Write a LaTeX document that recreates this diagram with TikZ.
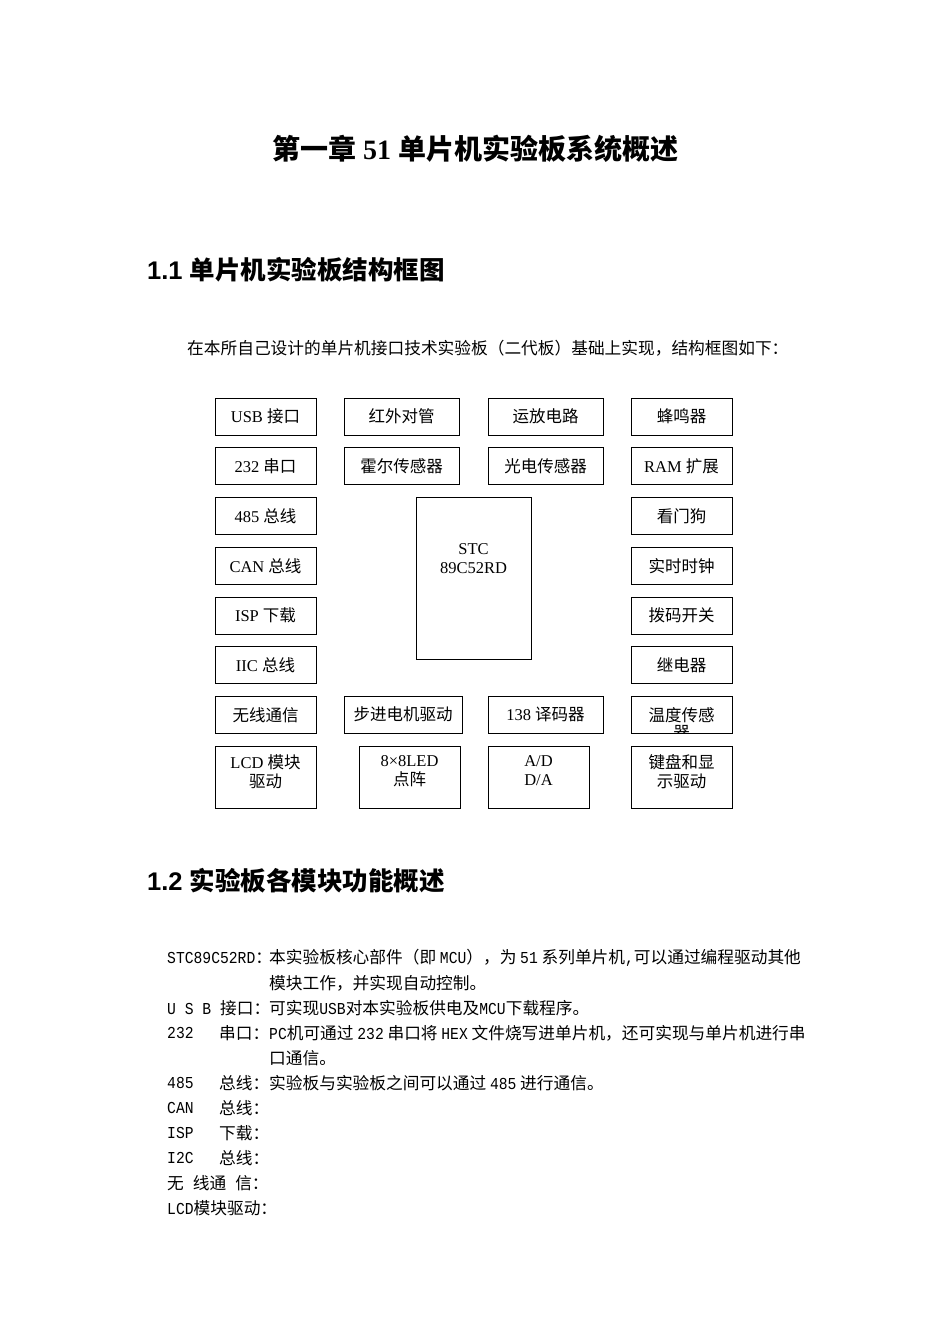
\documentclass[tikz,border=0pt]{standalone}
\usepackage{fontspec}
\setmainfont{Liberation Serif}
\newfontfamily\cjk{Noto Sans CJK SC}
\newfontfamily\arialfont{Liberation Sans}
\newfontfamily\narrowmono[FakeStretch=0.88]{Liberation Mono}
\usetikzlibrary{positioning}
\newcommand{\zh}[1]{{\cjk #1}}
\newcommand{\mn}[1]{{\narrowmono #1}}
\newcommand{\setfs}[2]{\fontsize{#1}{#2}\selectfont}

\begin{document}
\begin{tikzpicture}[
        x=1pt, y=-1pt,
        blk/.style={rectangle, draw, line width=1pt, anchor=north west, align=center, inner sep=0pt, outer sep=0pt,
                    minimum width=101pt, minimum height=37pt, font=\setfs{16.5}{19}},
        wideblk/.style={blk, minimum width=115pt},
        tallblk/.style={blk, minimum height=62pt},
        desc/.style={anchor=west, inner sep=0pt, font=\setfs{16.7}{20}\cjk},
        node distance=12.75pt
    ]
    \fill[white] (0,0) rectangle (950,1344);
    \useasboundingbox (0,0) rectangle (950,1344);

    \node [font=\setfs{28}{32}\bfseries] (title) at (475,149) {\zh{第一章} 51 \zh{单片机实验板系统概述}};
    \node [anchor=west, inner sep=0pt, font=\setfs{25.5}{30}\arialfont\bfseries] (sec1) at (147,270) {1.1 \zh{单片机实验板结构框图}};
    \node [desc] (intro) at (187,348) {在本所自己设计的单片机接口技术实验板（二代板）基础上实现，结构框图如下：};

    % left column
    \node [blk] (usb) at (215,398) {USB \zh{接口}};
    \node [blk, below=of usb] (rs232) {232 \zh{串口}};
    \node [blk, below=of rs232] (rs485) {485 \zh{总线}};
    \node [blk, below=of rs485] (can) {CAN \zh{总线}};
    \node [blk, below=of can] (isp) {ISP \zh{下载}};
    \node [blk, below=of isp] (iic) {IIC \zh{总线}};
    \node [blk, below=of iic] (wireless) {\zh{无线通信}};
    \node [tallblk, below=of wireless] (lcd) {LCD \zh{模块}\\\zh{驱动}\\[-7pt]\mbox{}};

    % right column
    \node [blk] (buzzer) at (631,398) {\zh{蜂鸣器}};
    \node [blk, below=of buzzer] (ram) {RAM \zh{扩展}};
    \node [blk, below=of ram] (wdog) {\zh{看门狗}};
    \node [blk, below=of wdog] (rtc) {\zh{实时时钟}};
    \node [blk, below=of rtc] (dip) {\zh{拨码开关}};
    \node [blk, below=of dip] (relay) {\zh{继电器}};
    \node [blk, below=of relay] (temp) {\zh{温度传感}};
    \node [tallblk, below=of temp] (keydisp) {\zh{键盘和显}\\\zh{示驱动}\\[-7pt]\mbox{}};
    \begin{scope}
        \clip (temp.north west) rectangle (temp.south east);
        \node [inner sep=0pt, font=\setfs{16.5}{19}\cjk] (tempcut) at (681.5,733) {器};
    \end{scope}

    % middle
    \node [wideblk] (ir) at (344,398) {\zh{红外对管}};
    \node [wideblk, below=of ir] (hall) {\zh{霍尔传感器}};
    \node [wideblk] (opamp) at (488,398) {\zh{运放电路}};
    \node [wideblk, below=of opamp] (photo) {\zh{光电传感器}};
    \node [blk, minimum width=115pt, minimum height=162pt] (mcu) at (416,497) {STC\\89C52RD\\\mbox{}\\\mbox{}};
    \node [blk, minimum width=118pt] (stepper) at (344,696) {\zh{步进电机驱动}};
    \node [wideblk] (decoder) at (488,696) {138 \zh{译码器}};
    \node [tallblk] (ledmat) at (359,746) {8×8LED\\\zh{点阵}\\[-7pt]\mbox{}};
    \node [tallblk] (adda) at (488,746) {A/D\\D/A\\[-7pt]\mbox{}};

    \node [anchor=west, inner sep=0pt, font=\setfs{25.5}{30}\arialfont\bfseries] (sec2) at (147,881) {1.2 \zh{实验板各模块功能概述}};

    % module descriptions
    \node [desc] (mcuL) at (167,958) {\mn{STC89C52RD}：};
    \node [desc] (mcuT) at (269,958) {本实验板核心部件（即 \mn{MCU}），为 \mn{51} 系列单片机\mn{,}可以通过编程驱动其他};
    \node [desc] (mcuT2) at (269,983) {模块工作，并实现自动控制。};
    \node [desc] (usbL) at (167,1008) {\mn{U S B }接口：};
    \node [desc] (usbT) at (269,1008) {可实现\mn{USB}对本实验板供电及\mn{MCU}下载程序。};
    \node [desc] (serL) at (167,1033) {\mn{232}};
    \node [desc] (serL2) at (219,1033) {串口：};
    \node [desc] (serT) at (269,1033) {\mn{PC}机可通过 \mn{232} 串口将 \mn{HEX} 文件烧写进单片机，还可实现与单片机进行串};
    \node [desc] (serT2) at (269,1058) {口通信。};
    \node [desc] (busL) at (167,1083) {\mn{485}};
    \node [desc] (busL2) at (219,1083) {总线：};
    \node [desc] (busT) at (269,1083) {实验板与实验板之间可以通过 \mn{485} 进行通信。};
    \node [desc] (canL) at (167,1108) {\mn{CAN}};
    \node [desc] (canL2) at (219,1108) {总线：};
    \node [desc] (ispL) at (167,1133) {\mn{ISP}};
    \node [desc] (ispL2) at (219,1133) {下载：};
    \node [desc] (iicL) at (167,1158) {\mn{I2C}};
    \node [desc] (iicL2) at (219,1158) {总线：};
    \node [desc] (wlL) at (167,1183) {无\hspace{9pt}线通\hspace{9pt}信：};
    \node [desc] (lcdL) at (167,1208) {\mn{LCD}模块驱动：};
\end{tikzpicture}
\end{document}
